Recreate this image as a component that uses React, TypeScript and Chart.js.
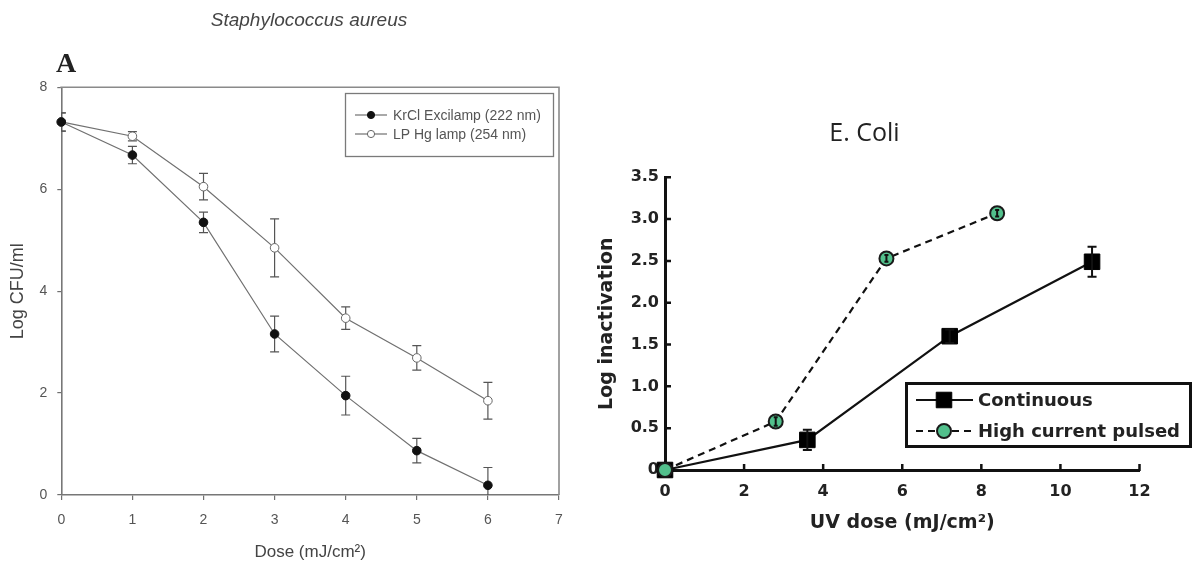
import React, { useEffect, useRef } from "react";
import { Chart, registerables } from "chart.js";

Chart.register(...registerables);

// ---------- Panel A : Staphylococcus aureus ----------
const doseA = [0, 1, 2, 3, 4, 5, 6];
const krclValues = [7.32, 6.67, 5.35, 3.16, 1.95, 0.87, 0.19];
const krclErrors = [0.18, 0.17, 0.2, 0.35, 0.38, 0.24, 0.35];
const lphgValues = [7.32, 7.04, 6.05, 4.85, 3.47, 2.69, 1.85];
const lphgErrors = [0.18, 0.09, 0.26, 0.57, 0.22, 0.24, 0.36];
const xTicksA = [0, 1, 2, 3, 4, 5, 6, 7];
const yTicksA = [0, 2, 4, 6, 8];
const seriesNamesA = ["KrCl Excilamp (222 nm)", "LP Hg lamp (254 nm)"];

// ---------- Panel B : E. Coli ----------
const doseContinuous = [0, 3.6, 7.2, 10.8];
const continuousValues = [0, 0.36, 1.6, 2.49];
const continuousErrors = [0, 0.12, 0.08, 0.18];
const dosePulsed = [0, 2.8, 5.6, 8.4];
const pulsedValues = [0, 0.58, 2.53, 3.07];
const pulsedErrors = [0, 0.05, 0.04, 0.04];
const xTicksB = [0, 2, 4, 6, 8, 10, 12];
const yTicksB = [0, 0.5, 1, 1.5, 2, 2.5, 3, 3.5];
const yTickLabelsB = ["0", "0.5", "1.0", "1.5", "2.0", "2.5", "3.0", "3.5"];
const seriesNamesB = ["Continuous", "High current pulsed"];

const FONT_A = "'Liberation Sans', Arial, sans-serif";
const FONT_SERIF = "'Liberation Serif', 'Times New Roman', serif";
const FONT_B = "'DejaVu Sans', sans-serif";
const FONT_TITLE_B = "'Open Sans', 'Noto Sans', sans-serif";

const GRAY = "#707070";
const GREEN = "#52c08c";

function errorBarPlugin(id: string, errors: number[][], color: string, width: number, caps: number[], when: "before" | "after", clipToArea: boolean) {
  const draw = (chart: any) => {
    const ctx = chart.ctx;
    const xs = chart.scales.x;
    const ys = chart.scales.y;
    const area = chart.chartArea;
    ctx.save();
    if (clipToArea) {
      ctx.beginPath();
      ctx.rect(area.left, area.top - 20, area.right - area.left, area.bottom - area.top + 20);
      ctx.clip();
    }
    ctx.strokeStyle = color;
    ctx.lineWidth = width;
    chart.data.datasets.forEach((ds: any, i: number) => {
      const errs = errors[i];
      if (!errs) return;
      const cap = caps[i];
      ds.data.forEach((p: any, j: number) => {
        const e = errs[j];
        if (!e) return;
        const px = xs.getPixelForValue(p.x);
        const yT = ys.getPixelForValue(p.y + e);
        const yB = ys.getPixelForValue(p.y - e);
        ctx.beginPath();
        ctx.moveTo(px, yT);
        ctx.lineTo(px, yB);
        ctx.moveTo(px - cap / 2, yT);
        ctx.lineTo(px + cap / 2, yT);
        ctx.moveTo(px - cap / 2, yB);
        ctx.lineTo(px + cap / 2, yB);
        ctx.stroke();
      });
    });
    ctx.restore();
  };
  return when === "before" ? { id, beforeDatasetsDraw: draw } : { id, afterDatasetsDraw: draw };
}

function PanelA() {
  const ref = useRef<HTMLCanvasElement | null>(null);
  useEffect(() => {
    if (!ref.current) return;
    const frame = {
      id: "frameA",
      beforeDatasetsDraw(chart: any) {
        const { left, right, top, bottom } = chart.chartArea;
        const ctx = chart.ctx;
        ctx.save();
        ctx.strokeStyle = "#8a8a8a";
        ctx.lineWidth = 1.6;
        ctx.beginPath();
        ctx.moveTo(left - 1, top);
        ctx.lineTo(right, top);
        ctx.lineTo(right, bottom);
        ctx.stroke();
        ctx.restore();
      },
    };
    const decorations = {
      id: "decorA",
      afterDraw(chart: any) {
        const ctx = chart.ctx;
        ctx.save();
        ctx.fillStyle = "#454545";
        ctx.font = `italic 19px ${FONT_A}`;
        ctx.textAlign = "center";
        ctx.textBaseline = "alphabetic";
        ctx.fillText("Staphylococcus aureus", 309, 25.5);
        ctx.fillStyle = "#222";
        ctx.font = `bold 28px ${FONT_SERIF}`;
        ctx.textAlign = "left";
        ctx.fillText("A", 56, 72);
        // legend
        ctx.strokeStyle = "#7a7a7a";
        ctx.lineWidth = 1.3;
        ctx.strokeRect(345.5, 93.5, 208, 63);
        const rows = [115, 134];
        chart.data.datasets.forEach((ds: any, i: number) => {
          const y = rows[i];
          ctx.strokeStyle = GRAY;
          ctx.lineWidth = 1.2;
          ctx.beginPath();
          ctx.moveTo(355, y);
          ctx.lineTo(387, y);
          ctx.stroke();
          ctx.beginPath();
          ctx.arc(371, y, 3.6, 0, Math.PI * 2);
          ctx.fillStyle = ds.pointBackgroundColor;
          ctx.fill();
          ctx.strokeStyle = ds.pointBorderColor;
          ctx.lineWidth = 1;
          ctx.stroke();
          ctx.fillStyle = "#555";
          ctx.font = `14px ${FONT_A}`;
          ctx.textAlign = "left";
          ctx.textBaseline = "middle";
          ctx.fillText(ds.label, 393, y + 1);
        });
        ctx.restore();
      },
    };
    const chart = new Chart(ref.current, {
      type: "scatter",
      data: {
        datasets: [
          {
            label: seriesNamesA[0],
            data: doseA.map((x, i) => ({ x, y: krclValues[i] })),
            showLine: true,
            borderColor: GRAY,
            borderWidth: 1.2,
            pointRadius: 4.3,
            pointBackgroundColor: "#111",
            pointBorderColor: "#111",
            pointBorderWidth: 1,
            clip: false,
          },
          {
            label: seriesNamesA[1],
            data: doseA.map((x, i) => ({ x, y: lphgValues[i] })),
            showLine: true,
            borderColor: GRAY,
            borderWidth: 1.2,
            pointRadius: 4.3,
            pointBackgroundColor: "#ffffff",
            pointBorderColor: "#666",
            pointBorderWidth: 1,
            clip: false,
          },
        ],
      } as any,
      options: {
        responsive: false,
        animation: false,
        devicePixelRatio: 1,
        layout: { padding: { left: 0, top: 87.3, right: 37, bottom: 0 } },
        plugins: { legend: { display: false }, tooltip: { enabled: false }, title: { display: false } },
        scales: {
          x: {
            type: "linear",
            min: 0,
            max: 7,
            afterBuildTicks: (s: any) => {
              s.ticks = xTicksA.map((v) => ({ value: v }));
            },
            afterFit: (s: any) => {
              s.height = 72;
            },
            grid: { drawOnChartArea: false, drawTicks: true, tickLength: 5, color: GRAY, lineWidth: 1.2 },
            border: { display: true, color: "#777", width: 1.6 },
            ticks: { padding: 12, color: "#555", font: { family: FONT_A, size: 14 } },
            title: {
              display: true,
              text: "Dose (mJ/cm²)",
              color: "#444",
              font: { family: FONT_A, size: 17 },
              padding: { top: 0, bottom: 4 },
            },
          },
          y: {
            type: "linear",
            min: 0,
            max: 8,
            afterBuildTicks: (s: any) => {
              s.ticks = yTicksA.map((v) => ({ value: v }));
            },
            afterFit: (s: any) => {
              s.width = 61.3;
            },
            grid: { drawOnChartArea: false, drawTicks: true, tickLength: 4, color: GRAY, lineWidth: 1.2 },
            border: { display: true, color: "#777", width: 1.6 },
            ticks: { padding: 10, color: "#555", font: { family: FONT_A, size: 14 } },
            title: {
              display: true,
              text: "Log CFU/ml",
              color: "#444",
              font: { family: FONT_A, size: 18 },
              padding: { top: 7, bottom: 0 },
            },
          },
        },
      } as any,
      plugins: [frame, errorBarPlugin("errA", [krclErrors, lphgErrors], "#555", 1.2, [9, 9], "before", true), decorations],
    });
    return () => chart.destroy();
  }, []);
  return <canvas ref={ref} width={596} height={567} style={{ position: "absolute", left: 0, top: 0, width: 596, height: 567 }} />;
}

function PanelB() {
  const ref = useRef<HTMLCanvasElement | null>(null);
  useEffect(() => {
    if (!ref.current) return;
    const innerTicks = {
      id: "innerTicksB",
      afterDatasetsDraw(chart: any) {
        const ctx = chart.ctx;
        const { left, bottom } = chart.chartArea;
        const xs = chart.scales.x;
        const ys = chart.scales.y;
        ctx.save();
        ctx.strokeStyle = "#111";
        ctx.lineWidth = 2.5;
        ctx.beginPath();
        xTicksB.forEach((v) => {
          if (v === 0) return;
          const px = xs.getPixelForValue(v);
          ctx.moveTo(px, bottom + 1);
          ctx.lineTo(px, bottom - 6);
        });
        yTicksB.forEach((v) => {
          if (v === 0) return;
          const py = ys.getPixelForValue(v);
          ctx.moveTo(left - 1, py);
          ctx.lineTo(left + 6, py);
        });
        ctx.stroke();
        ctx.restore();
      },
    };
    const decorations = {
      id: "decorB",
      afterDraw(chart: any) {
        const ctx = chart.ctx;
        ctx.save();
        ctx.fillStyle = "#222";
        ctx.font = `25px ${FONT_TITLE_B}`;
        ctx.textAlign = "center";
        ctx.textBaseline = "middle";
        ctx.fillText("E. Coli", 268.5, 134);
        // legend
        ctx.strokeStyle = "#111";
        ctx.lineWidth = 3;
        ctx.strokeRect(310.5, 383.5, 284, 63);
        const rows = [400, 431];
        chart.data.datasets.forEach((ds: any, i: number) => {
          const y = rows[i];
          ctx.strokeStyle = "#111";
          ctx.lineWidth = 2.2;
          ctx.setLineDash(ds.borderDash || []);
          ctx.beginPath();
          ctx.moveTo(320, y);
          ctx.lineTo(377, y);
          ctx.stroke();
          ctx.setLineDash([]);
          ctx.fillStyle = ds.pointBackgroundColor;
          ctx.strokeStyle = ds.pointBorderColor;
          ctx.lineWidth = ds.pointBorderWidth;
          ctx.beginPath();
          if (ds.pointStyle === "rect") {
            const h = ds.pointRadius * Math.SQRT1_2;
            ctx.rect(348 - h, y - h, 2 * h, 2 * h);
          } else {
            ctx.arc(348, y, ds.pointRadius, 0, Math.PI * 2);
          }
          ctx.fill();
          ctx.stroke();
          ctx.fillStyle = "#222";
          ctx.font = `bold 18px ${FONT_B}`;
          ctx.textAlign = "left";
          ctx.textBaseline = "middle";
          ctx.fillText(ds.label, 382, y + 1);
        });
        ctx.restore();
      },
    };
    const chart = new Chart(ref.current, {
      type: "scatter",
      data: {
        datasets: [
          {
            label: seriesNamesB[0],
            data: doseContinuous.map((x, i) => ({ x, y: continuousValues[i] })),
            showLine: true,
            borderColor: "#111",
            borderWidth: 2.2,
            pointStyle: "rect",
            pointRadius: 11,
            pointBackgroundColor: "#000",
            pointBorderColor: "#000",
            pointBorderWidth: 1,
            clip: false,
            order: 1,
          },
          {
            label: seriesNamesB[1],
            data: dosePulsed.map((x, i) => ({ x, y: pulsedValues[i] })),
            showLine: true,
            borderColor: "#111",
            borderWidth: 2.2,
            borderDash: [7, 5],
            pointStyle: "circle",
            pointRadius: 7,
            pointBackgroundColor: GREEN,
            pointBorderColor: "#1a1a1a",
            pointBorderWidth: 2,
            clip: false,
            order: 0,
          },
        ],
      } as any,
      options: {
        responsive: false,
        animation: false,
        devicePixelRatio: 1,
        layout: { padding: { left: 0, top: 177.3, right: 53.5, bottom: 0 } },
        plugins: { legend: { display: false }, tooltip: { enabled: false }, title: { display: false } },
        scales: {
          x: {
            type: "linear",
            min: 0,
            max: 12,
            afterBuildTicks: (s: any) => {
              s.ticks = xTicksB.map((v) => ({ value: v }));
            },
            afterFit: (s: any) => {
              s.height = 97;
            },
            grid: { drawOnChartArea: false, drawTicks: false },
            border: { display: true, color: "#111", width: 3 },
            ticks: { padding: 12, color: "#222", font: { family: FONT_B, size: 16, weight: "bold" } },
            title: {
              display: true,
              text: "UV dose (mJ/cm²)",
              color: "#222",
              font: { family: FONT_B, size: 19, weight: "bold" },
              padding: { top: 0, bottom: 33 },
            },
          },
          y: {
            type: "linear",
            min: 0,
            max: 3.5,
            afterBuildTicks: (s: any) => {
              s.ticks = yTicksB.map((v) => ({ value: v }));
            },
            afterFit: (s: any) => {
              s.width = 69;
            },
            grid: { drawOnChartArea: false, drawTicks: false },
            border: { display: true, color: "#111", width: 3 },
            ticks: {
              padding: 6,
              color: "#222",
              font: { family: FONT_B, size: 16, weight: "bold" },
              callback: (_v: any, i: number) => yTickLabelsB[i],
            },
            title: {
              display: true,
              text: "Log inactivation",
              color: "#222",
              font: { family: FONT_B, size: 19, weight: "bold" },
              padding: { top: 0, bottom: 0 },
            },
          },
        },
      } as any,
      plugins: [innerTicks, errorBarPlugin("errB", [continuousErrors, pulsedErrors], "#111", 2, [9, 4], "after", false), decorations],
    });
    return () => chart.destroy();
  }, []);
  return <canvas ref={ref} width={597} height={567} style={{ position: "absolute", left: 596, top: 0, width: 597, height: 567 }} />;
}

export default function App() {
  return (
    <div style={{ position: "absolute", left: 0, top: 0, width: 1193, height: 567, background: "#fff", overflow: "hidden" }}>
      <PanelA />
      <PanelB />
    </div>
  );
}
